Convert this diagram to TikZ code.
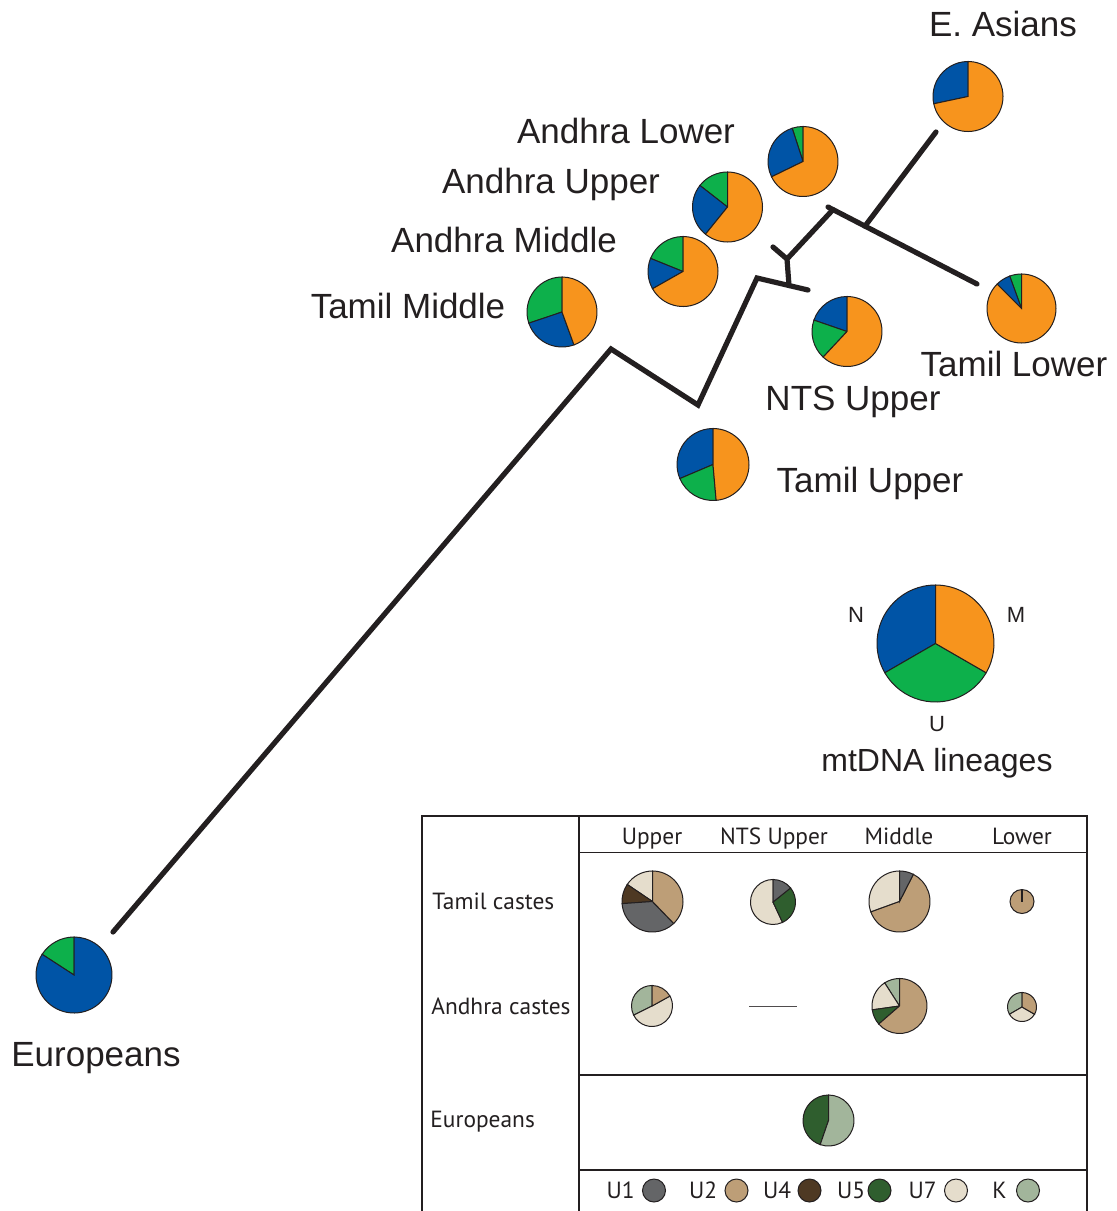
\documentclass[tikz,border=0pt]{standalone}
\usepackage{fontspec}
\setmainfont{Liberation Sans}
\newfontfamily\tabfont{PT Sans}
\usepackage{tikz}
\usetikzlibrary{positioning}
\definecolor{InkBlack}{HTML}{231F20}
\definecolor{MtOrange}{HTML}{F7941D}
\definecolor{MtBlue}{HTML}{0054A6}
\definecolor{MtGreen}{HTML}{0DB04B}
\definecolor{HapUone}{HTML}{646567}
\definecolor{HapUtwo}{HTML}{BD9E77}
\definecolor{HapUfour}{HTML}{4E3923}
\definecolor{HapUfive}{HTML}{2F5E2E}
\definecolor{HapUseven}{HTML}{E5DDCC}
\definecolor{HapK}{HTML}{A2B59B}
\newlength{\pxu}
\setlength{\pxu}{0.5pt}
% one wedge: centre, radius (px), start angle, end angle, colour
\newcommand{\pieslice}[5]{%
  \filldraw[pieedge, fill=#5] (#1) -- ++(#3:{#2*\pxu})
    arc[start angle=#3, end angle=#4, radius={#2*\pxu}] -- cycle;}

\begin{document}
\begin{tikzpicture}[x=\pxu, y=-\pxu,
    branch/.style={draw=InkBlack, line width=2.6pt, line cap=round},
    pieedge/.style={draw=InkBlack, line width=0.5pt},
    rule/.style={draw=InkBlack, line width=0.8pt},
    biglabel/.style={font=\fontsize{17.5}{21}\selectfont, text=InkBlack,
                     inner sep=0pt, anchor=base},
    keylabel/.style={font=\fontsize{11}{13}\selectfont, text=InkBlack,
                     inner sep=0pt, anchor=base},
    tablabel/.style={font=\tabfont\fontsize{11.7}{13}\selectfont, text=InkBlack,
                     inner sep=0pt},
    swatch/.style={circle, draw=InkBlack, line width=0.5pt,
                   minimum size=11.5pt, inner sep=0pt}]
\useasboundingbox (0,0) rectangle (1117,1211);

% tree
\coordinate (eutip)  at (113,932);
\coordinate (bendA)  at (611,349);
\coordinate (bendB)  at (698,405);
\coordinate (bendC)  at (757,278);
\coordinate (forkA)  at (789,285.5);
\coordinate (ntstip) at (808,290);
\coordinate (forkB)  at (787,259);
\coordinate (andtip) at (773,247);
\coordinate (bartip) at (828,207);
\coordinate (forkC)  at (833,209.6);
\coordinate (forkD)  at (865,226.1);
\coordinate (tltip)  at (977,284);
\coordinate (eatip)  at (936,132);
\draw[branch] (eutip) -- (bendA) -- (bendB) -- (bendC) -- (ntstip);
\draw[branch] (forkA) -- (forkB) -- (andtip);
\draw[branch] (forkB) -- (forkC);
\draw[branch] (bartip) -- (tltip);
\draw[branch] (forkD) -- (eatip);

% population pies
\coordinate (easia) at (968,96.5);
\coordinate (alow)  at (803,161.5);
\coordinate (aupp)  at (727.5,207);
\coordinate (amid)  at (683,271.5);
\coordinate (tmid)  at (562,312);
\coordinate (nts)   at (847,331.5);
\coordinate (tupp)  at (713,464.5);
\coordinate (tlow)  at (1021.5,308.5);
\coordinate (euro)  at (74,975);
\pieslice{easia}{35}{90}{192}{MtBlue}
\pieslice{easia}{35}{192}{450}{MtOrange}
\pieslice{alow}{35}{90}{108}{MtGreen}
\pieslice{alow}{35}{108}{206}{MtBlue}
\pieslice{alow}{35}{206}{450}{MtOrange}
\pieslice{aupp}{35}{90}{142}{MtGreen}
\pieslice{aupp}{35}{142}{231}{MtBlue}
\pieslice{aupp}{35}{231}{450}{MtOrange}
\pieslice{amid}{35}{90}{158}{MtGreen}
\pieslice{amid}{35}{158}{209.5}{MtBlue}
\pieslice{amid}{35}{209.5}{450}{MtOrange}
\pieslice{tmid}{35}{90}{198.6}{MtGreen}
\pieslice{tmid}{35}{198.6}{290}{MtBlue}
\pieslice{tmid}{35}{290}{450}{MtOrange}
\pieslice{nts}{35}{90}{161}{MtBlue}
\pieslice{nts}{35}{161}{227}{MtGreen}
\pieslice{nts}{35}{227}{450}{MtOrange}
\pieslice{tupp}{36}{90}{203}{MtBlue}
\pieslice{tupp}{36}{203}{275}{MtGreen}
\pieslice{tupp}{36}{275}{450}{MtOrange}
\pieslice{tlow}{34.5}{90}{110}{MtGreen}
\pieslice{tlow}{34.5}{110}{135}{MtBlue}
\pieslice{tlow}{34.5}{135}{450}{MtOrange}
\pieslice{euro}{38}{90}{147}{MtGreen}
\pieslice{euro}{38}{147}{450}{MtBlue}

\node[biglabel] (lbleasia) at (1003,36)  {E. Asians};
\node[biglabel] (lblalow)  at (626,143)  {Andhra Lower};
\node[biglabel] (lblaupp)  at (551,193)  {Andhra Upper};
\node[biglabel] (lblamid)  at (504,252)  {Andhra Middle};
\node[biglabel] (lbltmid)  at (408,318)  {Tamil Middle};
\node[biglabel] (lbltlow)  at (1014,376) {Tamil Lower};
\node[biglabel] (lblnts)   at (853,410)  {NTS Upper};
\node[biglabel] (lbltupp)  at (870,492)  {Tamil Upper};
\node[biglabel] (lbleuro)  at (96,1066)  {Europeans};

% key to the mtDNA pies
\coordinate (key) at (935.5,643.5);
\pieslice{key}{58.5}{90}{210}{MtBlue}
\pieslice{key}{58.5}{210}{330}{MtGreen}
\pieslice{key}{58.5}{330}{450}{MtOrange}
\node[keylabel] (keyN) at (856,622) {N};
\node[keylabel] (keyM) at (1016,622) {M};
\node[keylabel] (keyU) at (937,731) {U};
\node[biglabel, font=\fontsize{16}{19}\selectfont] (keytitle) at (937,771) {mtDNA lineages};

% haplogroup table
\draw[rule] (422,1211) -- (422,816) -- (1087,816) -- (1087,1211);
\draw[rule] (579,816) -- (579,1211);
\draw[rule] (579,852.5) -- (1087,852.5);
\draw[rule] (579,1075) -- (1087,1075);
\draw[rule] (579,1170) -- (1087,1170);

\node[tablabel, anchor=base] (colup)  at (652,844)  {Upper};
\node[tablabel, anchor=base] (colnts) at (774,844)  {NTS Upper};
\node[tablabel, anchor=base] (colmid) at (899,844)  {Middle};
\node[tablabel, anchor=base] (collow) at (1022,844) {Lower};
\node[tablabel, anchor=base west] (rowtam) at (432,909)  {Tamil castes};
\node[tablabel, anchor=base west] (rowand) at (431,1014) {Andhra castes};
\node[tablabel, anchor=base west] (roweur) at (430,1127) {Europeans};

\coordinate (ttu) at (652.5,901.5);
\coordinate (ttn) at (773,902);
\coordinate (ttm) at (899.5,901.5);
\coordinate (ttl) at (1022,901.5);
\coordinate (tau) at (652,1006);
\coordinate (tam) at (899.5,1006);
\coordinate (tal) at (1022,1007);
\coordinate (teu) at (828.5,1120.5);
\pieslice{ttu}{30.5}{90}{146}{HapUseven}
\pieslice{ttu}{30.5}{146}{184}{HapUfour}
\pieslice{ttu}{30.5}{184}{314}{HapUone}
\pieslice{ttu}{30.5}{314}{450}{HapUtwo}
\pieslice{ttn}{22.5}{90}{295}{HapUseven}
\pieslice{ttn}{22.5}{295}{398.7}{HapUfive}
\pieslice{ttn}{22.5}{398.7}{450}{HapUone}
\pieslice{ttm}{30.5}{90}{200}{HapUseven}
\pieslice{ttm}{30.5}{200}{423}{HapUtwo}
\pieslice{ttm}{30.5}{423}{450}{HapUone}
\filldraw[pieedge, fill=HapUtwo] (ttl) circle[radius={12*\pxu}];
\draw[pieedge, line width=1pt] (ttl) -- ++(0,-12);
\pieslice{tau}{20.5}{90}{206.6}{HapK}
\pieslice{tau}{20.5}{206.6}{389}{HapUseven}
\pieslice{tau}{20.5}{389}{450}{HapUtwo}
\draw[draw=InkBlack!80, line width=0.5pt] (749,1006.5) -- (797,1006.5);
\pieslice{tam}{27.5}{90}{122.7}{HapK}
\pieslice{tam}{27.5}{122.7}{188}{HapUseven}
\pieslice{tam}{27.5}{188}{221}{HapUfive}
\pieslice{tam}{27.5}{221}{450}{HapUtwo}
\pieslice{tal}{14.5}{90}{210}{HapK}
\pieslice{tal}{14.5}{210}{330}{HapUseven}
\pieslice{tal}{14.5}{330}{450}{HapUtwo}
\pieslice{teu}{25.5}{90}{251}{HapUfive}
\pieslice{teu}{25.5}{251}{450}{HapK}

% legend row
\node[swatch, fill=HapUone]   (swUone)   at (654,1190.5)  {};
\node[swatch, fill=HapUtwo]   (swUtwo)   at (736.5,1190.5) {};
\node[swatch, fill=HapUfour]  (swUfour)  at (809.5,1190.5) {};
\node[swatch, fill=HapUfive]  (swUfive)  at (879.5,1190.5) {};
\node[swatch, fill=HapUseven] (swUseven) at (956,1190.5)  {};
\node[swatch, fill=HapK]      (swK)      at (1028,1190.5) {};
\node[tablabel, left=3.5pt of swUone]   {U1};
\node[tablabel, left=3.5pt of swUtwo]   {U2};
\node[tablabel, left=3pt of swUfour]    {U4};
\node[tablabel, left=1pt of swUfive]    {U5};
\node[tablabel, left=3.5pt of swUseven] {U7};
\node[tablabel, left=4.5pt of swK]      {K};
\end{tikzpicture}
\end{document}
